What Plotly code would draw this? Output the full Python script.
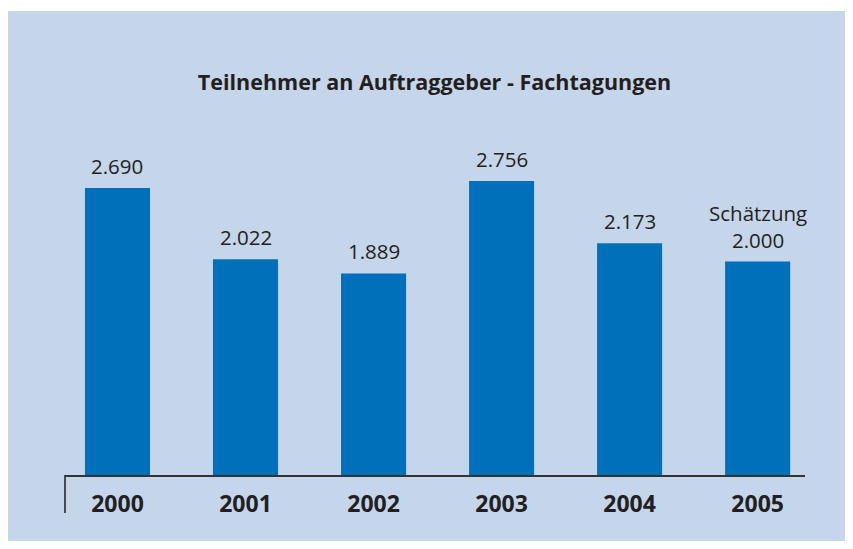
import plotly.graph_objects as go

years = ["2000", "2001", "2002", "2003", "2004", "2005"]
values = [2690, 2022, 1889, 2756, 2173, 2000]
value_labels = ["2.690", "2.022", "1.889", "2.756", "2.173", "Schätzung<br>2.000"]
title_text = "Teilnehmer an Auftraggeber - Fachtagungen"

OFF = 8  # page body margin
W, H = 853 - OFF, 549 - 2 * OFF
plot_left, plot_right = 65 - OFF, 805 - OFF
plot_top, plot_bottom = 115 - OFF, 475 - OFF
ph = plot_bottom - plot_top
pw = plot_right - plot_left
units_per_px = 2690 / 287.0

bar_color = "#0070ba"
bg_color = "#c5d5ea"
text_color = "#231f20"
font_family = "Open Sans"

fig = go.Figure()
fig.add_trace(go.Bar(
    x=years, y=values, marker_color=bar_color, width=0.508,
    marker_line_width=0, hoverinfo="skip",
))

for i, (v, lab) in enumerate(zip(values, value_labels)):
    fig.add_annotation(
        x=i, y=v, text=lab, showarrow=False, xref="x", yref="y",
        yanchor="bottom", yshift=6,
        font=dict(family=font_family, size=20.5, color=text_color),
    )

# white strip at top
fig.add_shape(type="rect", xref="paper", yref="paper",
              x0=-1, x1=2,
              y0=(plot_bottom - 3) / ph, y1=(plot_bottom + 5) / ph,
              fillcolor="white", line_width=0, layer="below")
# left vertical tick under axis
fig.add_shape(type="line", xref="paper", yref="paper",
              x0=0, x1=0, y0=0, y1=-(513 - 475) / ph,
              line=dict(color="#333333", width=1.7))

fig.update_layout(
    width=W, height=H,
    margin=dict(l=plot_left, r=W - plot_right, t=plot_top, b=H - plot_bottom, pad=0),
    paper_bgcolor=bg_color, plot_bgcolor="rgba(0,0,0,0)",
    showlegend=False,
    title=dict(text="<b>" + title_text + "</b>", x=(434.5 - OFF) / W, xanchor="center",
               y=1 - (82 - OFF) / H, yanchor="middle",
               font=dict(family=font_family, size=21.5, color=text_color)),
    xaxis=dict(type="category", range=[-0.41, 5.37], showgrid=False, zeroline=False,
               showline=True, linecolor="#333333", linewidth=1.7,
               ticks="", tickfont=dict(family=font_family, size=23, color=text_color),
               ticklabelstandoff=8,
               tickvals=years, ticktext=["<b>" + y + "</b>" for y in years]),
    yaxis=dict(range=[0, ph * units_per_px], visible=True, showgrid=False,
               showline=False, showticklabels=False, ticks="",
               zeroline=False),
)

fig.write_html("out.html")
